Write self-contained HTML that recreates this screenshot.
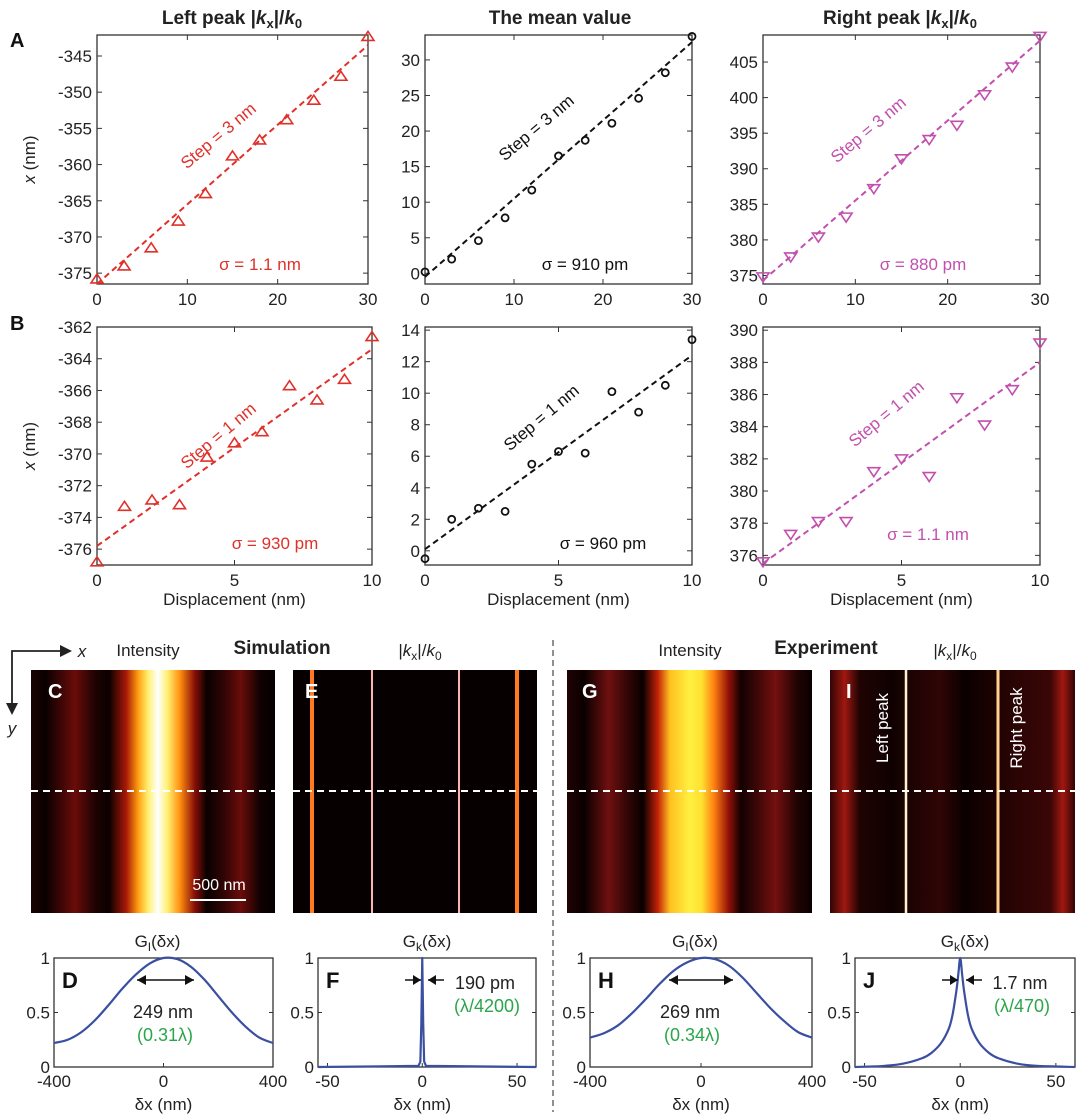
<!DOCTYPE html>
<html><head><meta charset="utf-8">
<style>
html,body{margin:0;padding:0;background:#fff;}
svg{display:block;font-family:"Liberation Sans",Arial,sans-serif;}
</style></head>
<body>
<svg id="fig" width="1080" height="1120" viewBox="0 0 1080 1120" xmlns="http://www.w3.org/2000/svg">
<defs>
<linearGradient id="gC" x1="0" x2="1" y1="0" y2="0">
<stop offset="0" stop-color="#1a0303"/><stop offset="0.06" stop-color="#0a0000"/><stop offset="0.18" stop-color="#6a0c0a"/><stop offset="0.26" stop-color="#200303"/><stop offset="0.32" stop-color="#0a0000"/><stop offset="0.39" stop-color="#a81808"/><stop offset="0.44" stop-color="#ffa010"/><stop offset="0.48" stop-color="#fff070"/><stop offset="0.52" stop-color="#ffffff"/><stop offset="0.56" stop-color="#fff070"/><stop offset="0.61" stop-color="#ff9010"/><stop offset="0.67" stop-color="#8a1008"/><stop offset="0.72" stop-color="#0a0000"/><stop offset="0.79" stop-color="#300505"/><stop offset="0.86" stop-color="#6a0c0a"/><stop offset="0.94" stop-color="#100101"/><stop offset="1" stop-color="#050000"/>
</linearGradient>
<linearGradient id="gG" x1="0" x2="1" y1="0" y2="0">
<stop offset="0" stop-color="#200303"/><stop offset="0.07" stop-color="#0a0000"/><stop offset="0.17" stop-color="#701010"/><stop offset="0.25" stop-color="#300505"/><stop offset="0.31" stop-color="#0a0000"/><stop offset="0.37" stop-color="#c02008"/><stop offset="0.42" stop-color="#ffc020"/><stop offset="0.5" stop-color="#fff040"/><stop offset="0.55" stop-color="#ffe030"/><stop offset="0.6" stop-color="#ff8010"/><stop offset="0.66" stop-color="#901008"/><stop offset="0.71" stop-color="#120101"/><stop offset="0.78" stop-color="#400707"/><stop offset="0.85" stop-color="#751010"/><stop offset="0.94" stop-color="#200303"/><stop offset="1" stop-color="#0a0000"/>
</linearGradient>
<linearGradient id="gI" x1="0" x2="1" y1="0" y2="0">
<stop offset="0" stop-color="#300505"/><stop offset="0.06" stop-color="#a01810"/><stop offset="0.12" stop-color="#200303"/><stop offset="0.25" stop-color="#100101"/><stop offset="0.45" stop-color="#300505"/><stop offset="0.55" stop-color="#0a0000"/><stop offset="0.75" stop-color="#2a0404"/><stop offset="0.9" stop-color="#3a0606"/><stop offset="0.95" stop-color="#a01810"/><stop offset="1" stop-color="#300505"/>
</linearGradient>
</defs>
</svg>
<script>
// ---------- data ----------
const dispA = [0,3,6,9,12,15,18,21,24,27,30];
const dispB = [0,1,2,3,4,5,6,7,8,9,10];
const leftA = [-375.8,-374,-371.5,-367.8,-364,-358.8,-356.6,-353.8,-351.1,-347.8,-342.3];
const meanA = [0.2,2,4.6,7.8,11.7,16.5,18.7,21.1,24.6,28.2,33.3];
const rightA = [374.8,377.6,380.4,383.2,387.2,391.4,394.1,396.1,400.4,404.3,408.6];
const leftB = [-376.8,-373.3,-372.9,-373.2,-370.2,-369.3,-368.6,-365.7,-366.6,-365.3,-362.6];
const meanB = [-0.5,2,2.7,2.5,5.5,6.3,6.2,10.1,8.8,10.5,13.4];
const rightB = [375.6,377.3,378.1,378.1,381.2,382,380.9,385.8,384.1,386.3,389.2];
const fitLeftA = [-376.5,-343.5], fitMeanA=[-0.5,32.5], fitRightA=[374.3,408];
const fitLeftB = [-375.8,-363.4], fitMeanB=[0.1,12.4], fitRightB=[375.5,388];
const ticksAleft=[-375,-370,-365,-360,-355,-350,-345], ticksAmean=[0,5,10,15,20,25,30], ticksAright=[375,380,385,390,395,400,405];
const ticksBleft=[-376,-374,-372,-370,-368,-366,-364,-362], ticksBmean=[0,2,4,6,8,10,12,14], ticksBright=[376,378,380,382,384,386,388,390];
const xTicksA=[0,10,20,30], xTicksB=[0,5,10];
const gIx = [-400,-350,-300,-250,-200,-150,-100,-50,0,50,100,150,200,250,300,350,400];
const gDsim = [0.22,0.25,0.32,0.43,0.57,0.72,0.85,0.95,1,0.99,0.92,0.8,0.65,0.5,0.37,0.27,0.22];
const gHexp = [0.27,0.31,0.38,0.49,0.62,0.76,0.88,0.96,1,0.99,0.93,0.82,0.68,0.54,0.42,0.32,0.27];
const gFx = [-55,-2,-1,-0.5,0,0.5,1,2,60];
const gFsim = [0,0.01,0.05,0.4,1,0.4,0.05,0.01,0];
const gJx = [-55,-40,-30,-20,-15,-10,-6,-4,-2,-1,0,1,2,4,6,10,15,20,30,40,60];
const gJexp = [0,0.01,0.03,0.08,0.13,0.22,0.35,0.48,0.7,0.85,1,0.85,0.7,0.48,0.35,0.22,0.13,0.08,0.03,0.01,0];

const NS="http://www.w3.org/2000/svg";
const svg=document.getElementById('fig');
function el(tag,attrs,parent,text){const e=document.createElementNS(NS,tag);for(const k in attrs)e.setAttribute(k,attrs[k]);if(text!==undefined)e.textContent=text;(parent||svg).appendChild(e);return e;}
function txt(x,y,s,size,opts,parent){opts=opts||{};const t=el('text',Object.assign({x:x,y:y,'font-size':size,'text-anchor':opts.anchor||'middle',fill:opts.fill||'#222','font-weight':opts.bold?'bold':'normal'},opts.tr?{transform:opts.tr}:{}),parent);t.innerHTML=s;return t;}

const RED='#e0302a', BLK='#111', MAG='#c24fae';
function scatter(name,box,xr,yr,xs,ys,fit,yt,xt,color,marker,step,sig,showY,showXLab){
  const g=el('g',{});
  
  
  const [x0,y0,x1,y1]=box;
  const sx=v=>x0+(v-xr[0])/(xr[1]-xr[0])*(x1-x0);
  const sy=v=>y1-(v-yr[0])/(yr[1]-yr[0])*(y1-y0);
  const fr=el('rect',{x:x0,y:y0,width:x1-x0,height:y1-y0,fill:'none',stroke:'#333','stroke-width':1.3},g);
  
  yt.forEach(v=>{const y=sy(v);el('line',{x1:x0,x2:x0+5,y1:y,y2:y,stroke:'#333'},g);el('line',{x1:x1,x2:x1-5,y1:y,y2:y,stroke:'#333'},g);
    const t=txt(x0-5,y+6,String(v),17,{anchor:'end'},g);});
  xt.forEach(v=>{const x=sx(v);el('line',{x1:x,x2:x,y1:y1,y2:y1-5,stroke:'#333'},g);el('line',{x1:x,x2:x,y1:y0,y2:y0+5,stroke:'#333'},g);
    const t=txt(x,y1+21,String(v),17,{},g);});
  const fl=el('line',{x1:sx(0),y1:sy(fit[0]),x2:sx(xs[xs.length-1]),y2:sy(fit[1]),stroke:color,'stroke-width':2,'stroke-dasharray':'6,4'},g);
  
  xs.forEach((xv,i)=>{const cx=sx(xv),cy=sy(ys[i]);let m;
    if(marker==='o') m=el('circle',{cx:cx,cy:cy,r:3.5,fill:'none',stroke:color,'stroke-width':1.8},g);
    else if(marker==='up') m=el('polygon',{points:`${cx-6},${cy+4} ${cx+6},${cy+4} ${cx},${cy-5}`,fill:'none',stroke:color,'stroke-width':1.6},g);
    else m=el('polygon',{points:`${cx-6},${cy-4} ${cx+6},${cy-4} ${cx},${cy+5}`,fill:'none',stroke:color,'stroke-width':1.6},g);
    });
  const st=txt(step[0],step[1],step[2],17,{fill:color,tr:`rotate(-40 ${step[0]} ${step[1]})`},g);
  
  const sg=txt(sig[0],sig[1],sig[2],17,{fill:color},g);
  
  if(showY){const t=txt(x0-62,(y0+y1)/2,'<tspan font-style="italic">x</tspan> (nm)',17,{tr:`rotate(-90 ${x0-62} ${(y0+y1)/2})`},g);}
  if(showXLab){const t=txt((x0+x1)/2,y1+40,'Displacement (nm)',17,{},g);}
}
const rowA=[35,284], rowB=[327,565];
scatter('plot-a-left',[97,rowA[0],368,rowA[1]],[0,30],[-376.5,-342.1],dispA,leftA,fitLeftA,ticksAleft,xTicksA,RED,'up',[222,140,'Step = 3 nm'],[260,270,'σ = 1.1 nm'],true,false);
scatter('plot-a-mean',[425,rowA[0],692,rowA[1]],[0,30],[-1.5,33.5],dispA,meanA,fitMeanA,ticksAmean,xTicksA,BLK,'o',[540,132,'Step = 3 nm'],[585,270,'σ = 910 pm'],false,false);
scatter('plot-a-right',[763,rowA[0],1040,rowA[1]],[0,30],[373.8,408.8],dispA,rightA,fitRightA,ticksAright,xTicksA,MAG,'down',[872,134,'Step = 3 nm'],[923,270,'σ = 880 pm'],false,false);
scatter('plot-b-left',[97,rowB[0],372,rowB[1]],[0,10],[-377,-362],dispB,leftB,fitLeftB,ticksBleft,xTicksB,RED,'up',[222,440,'Step = 1 nm'],[275,549,'σ = 930 pm'],true,true);
scatter('plot-b-mean',[425,rowB[0],692,rowB[1]],[0,10],[-0.9,14.2],dispB,meanB,fitMeanB,ticksBmean,xTicksB,BLK,'o',[545,422,'Step = 1 nm'],[603,549,'σ = 960 pm'],false,true);
scatter('plot-b-right',[763,rowB[0],1040,rowB[1]],[0,10],[375.4,390.2],dispB,rightB,fitRightB,ticksBright,xTicksB,MAG,'down',[890,418,'Step = 1 nm'],[928,540,'σ = 1.1 nm'],false,true);

// titles
[[232,'Left peak |<tspan font-style="italic">k</tspan><tspan font-size="13" dy="4">x</tspan><tspan dy="-4">|/</tspan><tspan font-style="italic">k</tspan><tspan font-size="13" dy="4">0</tspan>','title-left-peak'],
 [560,'The mean value','title-mean-value'],
 [900,'Right peak |<tspan font-style="italic">k</tspan><tspan font-size="13" dy="4">x</tspan><tspan dy="-4">|/</tspan><tspan font-style="italic">k</tspan><tspan font-size="13" dy="4">0</tspan>','title-right-peak']].forEach(a=>{
  const t=txt(a[0],24,a[1],19,{bold:true});});
[['A',10,47],['B',10,330]].forEach(a=>{const t=txt(a[1],a[2],a[0],20,{bold:true,anchor:'start',fill:'#111'});});

// heatmaps
function heat(name,x,w,fill){const r=el('rect',{x:x,y:670,width:w,height:243,fill:fill});}
heat('heatmap-c-intensity-sim',31,244,'url(#gC)');
heat('heatmap-e-k-sim',293,244,'#060000');
heat('heatmap-g-intensity-exp',567,245,'url(#gG)');
heat('heatmap-i-k-exp',830,245,'url(#gI)');
[[312,4,'#ff7a20'],[372,2,'#ffb0b0'],[459,2,'#ffb0b0'],[517,4,'#ff7a20'],[906,2.5,'#fff0d0'],[998,3,'#ffd090']].forEach(l=>{
  const r=el('rect',{x:l[0]-l[1]/2,y:670,width:l[1],height:243,fill:l[2]});});
[[31,275],[293,537],[567,812],[830,1075]].forEach(s=>{const l=el('line',{x1:s[0],x2:s[1],y1:791,y2:791,stroke:'#fff','stroke-width':2,'stroke-dasharray':'7,5'});});
[['C',48],['E',305],['G',582],['I',846]].forEach(a=>{const t=txt(a[1],698,a[0],20,{bold:true,anchor:'start',fill:'#fff'});});
{const l=el('line',{x1:190,x2:246,y1:900,y2:900,stroke:'#fff','stroke-width':2});
 const t=txt(219,890,'500 nm',16,{fill:'#fff'});}
[[888,728,'Left  peak'],[1022,728,'Right peak']].forEach(a=>{const t=txt(a[0],a[1],a[2],17,{fill:'#fff',tr:`rotate(-90 ${a[0]} ${a[1]})`});});
// headers
const kk='|<tspan font-style="italic">k</tspan><tspan font-size="12" dy="4">x</tspan><tspan dy="-4">|/</tspan><tspan font-style="italic">k</tspan><tspan font-size="12" dy="4">0</tspan>';
[[148,656,'Intensity',false,'header-intensity-sim'],[282,654,'Simulation',true,'header-simulation'],[420,656,kk,false,'header-k-sim'],
 [690,656,'Intensity',false,'header-intensity-exp'],[826,654,'Experiment',true,'header-experiment'],[955,656,kk,false,'header-k-exp']].forEach(a=>{
  const t=txt(a[0],a[1],a[2],a[3]?19:17,{bold:a[3]});});
// axes arrows
{const g=el('g',{});
 el('polyline',{points:'12,705 12,651 62,651',fill:'none',stroke:'#222','stroke-width':1.8},g);
 el('polygon',{points:'72,651 60,645 60,657',fill:'#222'},g);
 el('polygon',{points:'12,715 6,703 18,703',fill:'#222'},g);
 txt(82,657,'<tspan font-style="italic">x</tspan>',17,{},g);
 txt(12,734,'<tspan font-style="italic">y</tspan>',17,{},g);}
{const l=el('line',{x1:553,x2:553,y1:640,y2:1112,stroke:'#555','stroke-width':1.3,'stroke-dasharray':'6,4'});}

// line plots
function curve(name,box,xr,xs,ys,xt,label,title,ann,smooth){
  const g=el('g',{});
  
  
  const [x0,y0,x1,y1]=box;
  const sx=v=>x0+(v-xr[0])/(xr[1]-xr[0])*(x1-x0);
  const sy=v=>y1-v*(y1-y0);
  el('rect',{x:x0,y:y0,width:x1-x0,height:y1-y0,fill:'none',stroke:'#333','stroke-width':1.3},g);
  [0,0.5,1].forEach(v=>{const y=sy(v);el('line',{x1:x0,x2:x0+4,y1:y,y2:y,stroke:'#333'},g);el('line',{x1:x1,x2:x1-4,y1:y,y2:y,stroke:'#333'},g);
    const t=txt(x0-4,y+6,String(v),17,{anchor:'end'},g);});
  xt.forEach(v=>{const x=sx(v);el('line',{x1:x,x2:x,y1:y1,y2:y1-4,stroke:'#333'},g);
    const t=txt(x,y1+20,String(v),17,{},g);});
  const P=xs.map((v,i)=>[sx(v),sy(ys[i])]);
  let d=`M${P[0][0]},${P[0][1]}`;
  for(let i=0;i<P.length-1;i++){
    if(!smooth){d+=` L${P[i+1][0]},${P[i+1][1]}`;continue;}
    const p0=P[Math.max(0,i-1)],p1=P[i],p2=P[i+1],p3=P[Math.min(P.length-1,i+2)];
    d+=` C${p1[0]+(p2[0]-p0[0])/6},${p1[1]+(p2[1]-p0[1])/6} ${p2[0]-(p3[0]-p1[0])/6},${p2[1]-(p3[1]-p1[1])/6} ${p2[0]},${p2[1]}`;}
  const c=el('path',{d:d,fill:'none',stroke:'#3a4fa0','stroke-width':2.2,'stroke-linejoin':'round'},g);
  
  const pl=txt(x0+8,y0+30,label,22,{bold:true,anchor:'start',fill:'#111'},g);
  
  const tt=txt((x0+x1)/2-(label==='D'||label==='H'?6:0),947,title,17,{},g);
  
  const xl=txt(sx(0),1110,'δx (nm)',17,{},g);
  
  if(ann.type==='double'){
    el('line',{x1:ann.a,x2:ann.b,y1:980,y2:980,stroke:'#111','stroke-width':1.5},g);
    el('polygon',{points:`${ann.a},980 ${ann.a+9},975 ${ann.a+9},985`,fill:'#111'},g);
    el('polygon',{points:`${ann.b},980 ${ann.b-9},975 ${ann.b-9},985`,fill:'#111'},g);
  } else {
    el('line',{x1:ann.a-16,x2:ann.a,y1:980,y2:980,stroke:'#111','stroke-width':1.5},g);
    el('polygon',{points:`${ann.a},980 ${ann.a-8},975 ${ann.a-8},985`,fill:'#111'},g);
    el('line',{x1:ann.b,x2:ann.b+16,y1:980,y2:980,stroke:'#111','stroke-width':1.5},g);
    el('polygon',{points:`${ann.b},980 ${ann.b+8},975 ${ann.b+8},985`,fill:'#111'},g);
  }
  const a1=txt(ann.tx,ann.ty,ann.t1,18,{},g);
  const a2=txt(ann.tx+2,ann.ty+23,ann.t2,18,{fill:'#2aa64a'},g);
}
const GI='G<tspan font-size="12" dy="4">I</tspan><tspan dy="-4">(δx)</tspan>', GK='G<tspan font-size="12" dy="4">k</tspan><tspan dy="-4">(δx)</tspan>';
curve('plot-d-gi-sim',[54,958,273,1067],[-400,400],gIx,gDsim,[-400,0,400],'D',GI,{type:'double',a:137,b:194,tx:163,ty:1018,t1:'249 nm',t2:'(0.31λ)'},true);
curve('plot-f-gk-sim',[318,958,536,1067],[-55,60],gFx,gFsim,[-50,0,50],'F',GK,{type:'in',a:421,b:428,tx:485,ty:989,t1:'190 pm',t2:'(λ/4200)'},false);
curve('plot-h-gi-exp',[590,958,812,1067],[-400,400],gIx,gHexp,[-400,0,400],'H',GI,{type:'double',a:669,b:733,tx:690,ty:1018,t1:'269 nm',t2:'(0.34λ)'},true);
curve('plot-j-gk-exp',[855,958,1075,1067],[-55,60],gJx,gJexp,[-50,0,50],'J',GK,{type:'in',a:958,b:966,tx:1020,ty:989,t1:'1.7 nm',t2:'(λ/470)'},true);
</script>
</body></html>
